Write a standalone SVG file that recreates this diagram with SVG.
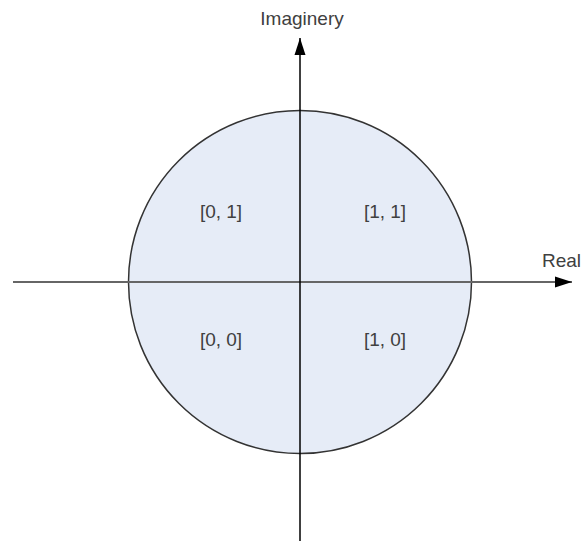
<svg xmlns="http://www.w3.org/2000/svg" width="581" height="542" viewBox="0 0 581 542">
<style>
text{font-family:"Liberation Sans",Arial,sans-serif;font-size:19px;fill:#404040}
.q{text-anchor:middle}
</style>
<defs>
<marker id="ah" markerWidth="18" markerHeight="12" refX="17" refY="6" orient="auto" markerUnits="userSpaceOnUse">
<path d="M0,0.5 L17,6 L0,11.5 Z" fill="#000"/>
</marker>
</defs>
<rect width="581" height="542" fill="#fff"/>
<g id="circle">
<circle cx="300" cy="282" r="171.5" fill="#e6ecf7" stroke="#333" stroke-width="1.5"/>
</g>
<g id="connectors">
<line x1="13" y1="282" x2="572" y2="282" stroke="#666" stroke-width="2" marker-end="url(#ah)"/>
<line x1="300" y1="541" x2="300" y2="38" stroke="#000" stroke-width="1.5" marker-end="url(#ah)"/>
</g>
<g id="label-imag"><text class="q" x="302" y="25">Imaginery</text></g>
<g id="label-real"><text x="542" y="267">Real</text></g>
<g id="q01"><text class="q" x="221" y="218">[0, 1]</text></g>
<g id="q11"><text class="q" x="385" y="218">[1, 1]</text></g>
<g id="q00"><text class="q" x="221" y="346">[0, 0]</text></g>
<g id="q10"><text class="q" x="385" y="346">[1, 0]</text></g>
</svg>
